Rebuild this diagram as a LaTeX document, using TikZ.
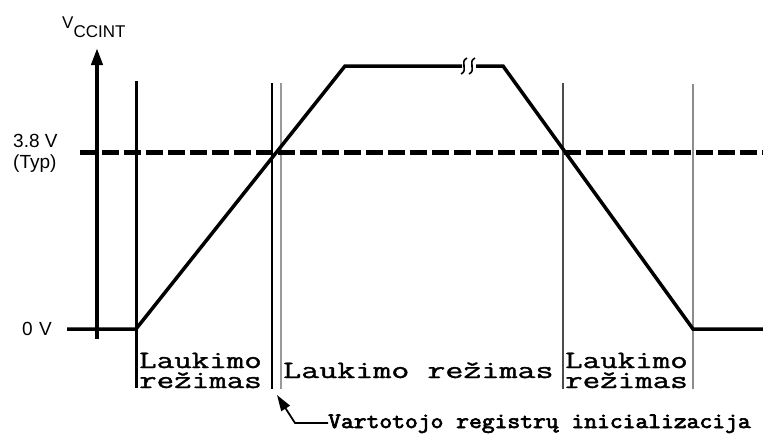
\documentclass[tikz,border=0pt]{standalone}
\usepackage{fontspec}
\usepackage{graphicx}
\setmainfont{Liberation Sans}
\newfontfamily\modefont{Latin Modern Mono}[FakeBold=1.2]
\newfontfamily\notefont{Latin Modern Mono}[FakeBold=3]
\usetikzlibrary{arrows.meta}
\tikzset{
  wave/.style={line width=3.5pt, line join=miter},
  thresh/.style={line width=5pt, dash pattern=on 17pt off 5pt},
  axisline/.style={line width=4pt, -{Triangle[length=17pt,width=11pt]}},
  marker/.style={line width=#1},
  modelbl/.style={inner sep=0pt, anchor=base west, text height=14pt, text depth=0pt,
     font=\modefont\fontsize{25}{19}\selectfont},
  notelbl/.style={inner sep=0pt, anchor=base west,
     font=\notefont\fontsize{22}{22}\selectfont},
  sans/.style={inner sep=0pt, anchor=base west, font=\fontsize{19}{19}\selectfont},
}
\newcommand{\wide}[2][1.38]{\scalebox{#1}[1]{#2}}
\begin{document}
\begin{tikzpicture}[x=1pt,y=-1pt]
\useasboundingbox (0,0) rectangle (763,434);
% coordinates
\coordinate (w0) at (67,329);
\coordinate (w1) at (136,329);
\coordinate (w2) at (345,66);
\coordinate (b1) at (462,66);
\coordinate (b2) at (476,66);
\coordinate (w3) at (503,66);
\coordinate (w4) at (693,329);
\coordinate (w5) at (763,329);
\coordinate (d0) at (80,152);
\coordinate (d1) at (763,152);
\coordinate (a0) at (97,339);
\coordinate (a1) at (97,48);
% vertical markers
\coordinate (v1t) at (136,81);  \coordinate (v1b) at (136,388);
\coordinate (v2t) at (272,83);  \coordinate (v2b) at (272,389);
\coordinate (v3t) at (281,83);  \coordinate (v3b) at (281,389);
\coordinate (v4t) at (563,83);  \coordinate (v4b) at (563,389);
\coordinate (v5t) at (693,84);  \coordinate (v5b) at (693,389);
\draw[marker=3pt] (v1t) -- (v1b);
\draw[marker=1.8pt] (v2t) -- (v2b);
\draw[marker=2pt, draw=black!40] (v3t) -- (v3b);
\draw[marker=2pt, draw=black!70] (v4t) -- (v4b);
\draw[marker=2pt, draw=black!45] (v5t) -- (v5b);
% threshold
\draw[thresh] (d0) -- (d1);
% axis
\draw[axisline] (a0) -- (a1);
% waveform
\draw[wave] (w0) -- (w1) -- (w2) -- (b1);
\draw[wave] (b2) -- (w3) -- (w4) -- (w5);
% break marks
\draw[line width=1.6pt] (461,74) .. controls (469,70) and (459,62) .. (467,58);
\draw[line width=1.6pt] (469,74) .. controls (477,70) and (467,62) .. (475,58);
% axis labels
\node[sans, font=\fontsize{17}{17}\selectfont] (vcc) at (62,28) {V\raisebox{-9pt}{CCINT}};
\node[sans] (v38) at (13,147) {3.8 V};
\node[sans] (typ) at (13,168) {(Typ)};
\node[sans] (v0) at (22,335) {0\,\,V};
% mode labels
\node[modelbl] (m1a) at (139,368) {\wide[1.36]{Laukimo}};
\node[modelbl] (m1b) at (139,388) {\wide[1.36]{režimas}};
\node[modelbl] (m2) at (283,378) {\wide[1.4]{Laukimo režimas}};
\node[modelbl] (m3a) at (565,368) {\wide[1.36]{Laukimo}};
\node[modelbl] (m3b) at (565,388) {\wide[1.36]{režimas}};
% note
\node[notelbl] (note) at (328,428) {\scalebox{1.13}[1]{Vartotojo registrų inicializacija}};
\coordinate (tip) at (277,395);
\coordinate (knee) at (295,423);
\draw[line width=1.8pt, -{Triangle[length=16pt,width=10pt]}] (note.west |- knee) -- (knee) -- (tip);
\end{tikzpicture}
\end{document}
